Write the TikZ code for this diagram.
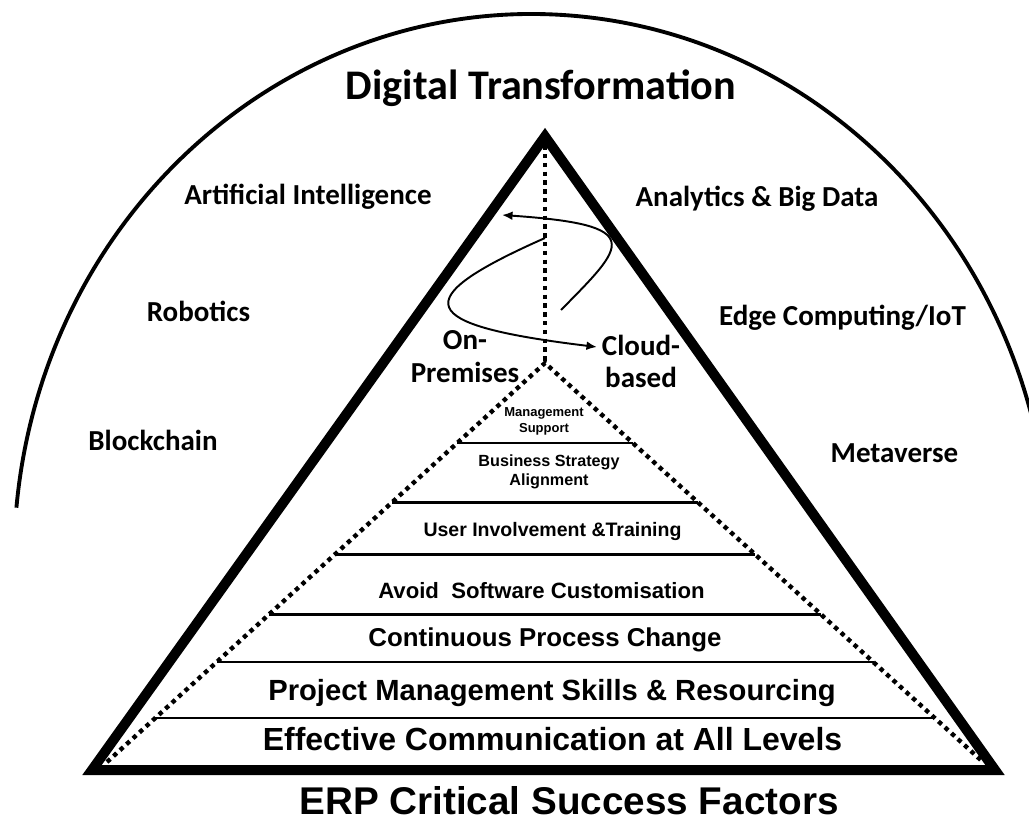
\documentclass[tikz,border=0pt]{standalone}
\usepackage{fontspec}
\usepackage{tikz}
\usetikzlibrary{arrows.meta, positioning, calc}
\newfontfamily\calibri{Carlito}
\newfontfamily\arial{Liberation Sans}

\begin{document}
\begin{tikzpicture}[
    techlabel/.style={
        anchor=base,
        font=\calibri\bfseries\fontsize{#1}{#1}\selectfont
    },
    techlabel/.default=16.5,
    deploylabel/.style={
        align=center,
        font=\calibri\bfseries\fontsize{16.5}{18.5}\selectfont
    },
    csflabel/.style 2 args={
        font=\arial\bfseries\fontsize{#1}{#2}\selectfont
    },
    pyramid/.style={line width=0.2cm, line join=miter},
    dotline/.style={line width=2.5pt, dash pattern=on 2.5pt off 2.5pt},
    level/.style={line width=1.4pt},
    swirl/.style={line width=1.1pt, -{Latex[length=6pt, width=5pt]}}
]
    \useasboundingbox (0,0) rectangle (20.58,16.5);

    % Outer arc
    \draw[line width=2.2pt] (10.64,5.30) ++(174.5:10.36cm and 10.92cm)
        arc[start angle=174.5, end angle=12, x radius=10.36cm, y radius=10.92cm];

    % Title
    \node[techlabel=24] (digital) at (10.82,14.50) {Digital Transformation};

    % Technologies
    \node[techlabel] (ai) at (6.16,12.40) {Artificial Intelligence};
    \node[techlabel] (bigdata) at (15.14,12.36) {Analytics \& Big Data};
    \node[techlabel] (robotics) at (3.97,10.06) {Robotics};
    \node[techlabel] (edge) at (16.85,10.00) {Edge Computing/IoT};
    \node[techlabel] (blockchain) at (3.06,7.50) {Blockchain};
    \node[techlabel] (metaverse) at (17.89,7.26) {Metaverse};

    % Pyramid
    \coordinate (top) at (10.90,13.77);
    \coordinate (bl) at (1.84,1.10);
    \coordinate (br) at (19.90,1.10);
    \draw[pyramid] (top) -- (bl) -- (br) -- cycle;

    \coordinate (dtop) at (10.90,9.24);
    \coordinate (dleft) at (2.14,1.26);
    \coordinate (dright) at (19.66,1.26);
    \draw[dotline] (top) -- (dtop);
    \draw[dotline] (dleft) -- (dtop) -- (dright);

    % Levels
    \draw[level] ($(dtop)!0.20!(dleft)$) -- ($(dtop)!0.20!(dright)$);
    \draw[level] ($(dtop)!0.35!(dleft)$) -- ($(dtop)!0.35!(dright)$);
    \draw[level] ($(dtop)!0.48!(dleft)$) -- ($(dtop)!0.48!(dright)$);
    \draw[level] ($(dtop)!0.63!(dleft)$) -- ($(dtop)!0.63!(dright)$);
    \draw[level] ($(dtop)!0.75!(dleft)$) -- ($(dtop)!0.75!(dright)$);
    \draw[level] ($(dtop)!0.89!(dleft)$) -- ($(dtop)!0.89!(dright)$);

    % Success factors
    \node[csflabel={7.4}{8.7}, align=center] (mgmt) at (10.88,8.07) {Management\\Support};
    \node[csflabel={9.2}{10.8}, align=center] (strategy) at (10.98,7.06) {Business Strategy\\Alignment};
    \node[csflabel={11.1}{13}, anchor=base] (users) at (11.05,5.78) {User Involvement \&Training};
    \node[csflabel={12.6}{15}, anchor=base] (custom) at (10.83,4.54) {Avoid\ \ Software Customisation};
    \node[csflabel={14.7}{17}, anchor=base] (process) at (10.90,3.58) {Continuous Process Change};
    \node[csflabel={16.6}{19}, anchor=base] (project) at (11.04,2.50) {Project Management Skills \& Resourcing};
    \node[csflabel={18.2}{21}, anchor=base] (comm) at (11.05,1.50) {Effective Communication at All Levels};
    \node[csflabel={22}{26}, anchor=base] (erp) at (11.38,0.22) {ERP Critical Success Factors};

    % Deployment
    \node[deploylabel] (onprem) at (9.30,9.37) {On-\\Premises};
    \node[deploylabel] (cloud) at (12.82,9.27) {Cloud-\\based};

    \coordinate (upstart) at (11.22,10.30);
    \coordinate (upend) at (10.04,12.20);
    \draw[swirl] (upstart) .. controls (12.50,11.60) and (12.96,12.00) .. (upend);
    \coordinate (downstart) at (10.90,11.74);
    \coordinate (downend) at (11.94,9.56);
    \draw[swirl] (downstart) .. controls (8.10,10.50) and (8.30,10.00) .. (downend);
\end{tikzpicture}
\end{document}
